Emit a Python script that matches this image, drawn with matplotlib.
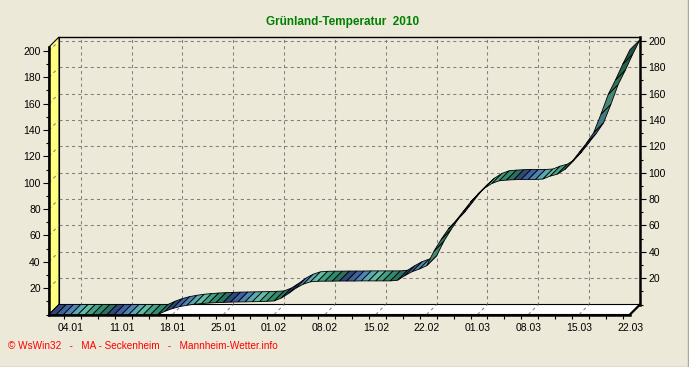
import numpy as np
import matplotlib
matplotlib.use('Agg')
import matplotlib.pyplot as plt
from matplotlib.patches import Polygon
from matplotlib.lines import Line2D
from matplotlib.ticker import FixedLocator, MultipleLocator
from matplotlib.colors import to_rgb

plt.rcParams['font.family'] = ['Liberation Sans', 'DejaVu Sans']

# ---------------- data ----------------
# day index 0 = 01.01.2010 ... 80 = 22.03.2010
values = [0, 0, 0, 0, 0, 0, 0, 0, 0, 0,
          0, 0, 0, 0, 0, 0, 2.5, 4.5, 6, 7,
          7.8, 8.3, 8.7, 9, 9.2, 9.4, 9.5, 9.6, 9.7, 9.8,
          10, 10.3, 12.5, 16, 20, 23, 24.8, 25.2, 25.3, 25.3,
          25.4, 25.4, 25.4, 25.5, 25.5, 25.5, 25.5, 25.5, 26, 29.5,
          32.5, 34.5, 37, 48, 57, 65, 71, 78, 85, 91,
          96, 99.5, 101.5, 102, 102.3, 102.5, 102.5, 102.5, 102.8, 105,
          106.5, 110, 116, 123, 130, 138, 152, 167, 178, 190,
          201]
days = np.arange(len(values))
tick_days = [3, 10, 17, 24, 31, 38, 45, 52, 59, 66, 73, 80]
tick_labels = ['04.01', '11.01', '18.01', '25.01', '01.02', '08.02',
               '15.02', '22.02', '01.03', '08.03', '15.03', '22.03']
y_ticks = [20, 40, 60, 80, 100, 120, 140, 160, 180, 200]
title = 'Grünland-Temperatur  2010'
footer = '© WsWin32   -   MA - Seckenheim   -   Mannheim-Wetter.info'

palette = ['#2E4878', '#3E62A0', '#4D84B4', '#5BA9B2', '#63BBA2',
           '#44A084', '#2F8B6D', '#2A7160']

# ---------------- figure ----------------
W, H = 689, 367
BG = '#ECE9D8'
fig = plt.figure(figsize=(W / 100, H / 100), dpi=100, facecolor=BG)

XMAX = 80
YMAX = 203
left_px, right_px = 49, 630
bot_px, top_px = 314.5, 47.0
depth = 10  # pixel offset of the back plane

ax2 = fig.add_axes([(left_px + depth) / W, (H - bot_px + depth) / H,
                    (right_px - left_px) / W, (bot_px - top_px) / H], zorder=1)
ax = fig.add_axes([left_px / W, (H - bot_px) / H,
                   (right_px - left_px) / W, (bot_px - top_px) / H], zorder=2)
for a in (ax, ax2):
    a.set_xlim(0, XMAX)
    a.set_ylim(0, YMAX)
    a.patch.set_visible(False)

bbox = ax.get_window_extent()
sx = bbox.width / XMAX
sy = bbox.height / YMAX
DX = depth / sx
DY = depth / sy

grid_kw = dict(color='#808080', linewidth=0.75, linestyle=(0, (3, 3)))

# ----- back wall (ax2) -----
ax2.xaxis.set_major_locator(FixedLocator(tick_days))
ax2.yaxis.set_major_locator(FixedLocator(y_ticks))
ax2.yaxis.set_minor_locator(MultipleLocator(10))
ax2.grid(True, which='major', **grid_kw)
ax2.tick_params(axis='x', which='both', length=0, labelbottom=False)
ax2.yaxis.tick_right()
ax2.tick_params(axis='y', which='major', direction='out', length=4, width=0.8,
                labelsize=7.5, pad=2, colors='black')
ax2.tick_params(axis='y', which='minor', direction='out', length=2, width=0.8)
for s, lw in (('top', 1.0), ('right', 1.8), ('left', 0.8), ('bottom', 0.8)):
    ax2.spines[s].set_linewidth(lw)
    ax2.spines[s].set_color('black')

# ----- front (ax) -----
ax.yaxis.set_major_locator(FixedLocator(y_ticks))
ax.yaxis.set_minor_locator(MultipleLocator(10))
ax.tick_params(axis='y', which='major', direction='out', length=4, width=0.8,
               labelsize=7.5, pad=2)
ax.tick_params(axis='y', which='minor', direction='out', length=2, width=0.8)
ax.set_xticks(tick_days)
ax.set_xticklabels(tick_labels)
minor_x = [t + DX + k * 7 / 3 for t in [-4] + tick_days for k in range(3)
           if 0 <= t + DX + k * 7 / 3 <= XMAX]
ax.xaxis.set_minor_locator(FixedLocator(minor_x))
ax.tick_params(axis='x', which='major', length=0, labelsize=7.5, pad=6)
ax.tick_params(axis='x', which='minor', direction='out', length=3, width=0.8)
ax.spines['top'].set_visible(False)
ax.spines['right'].set_visible(False)
ax.spines['left'].set_linewidth(1.8)
ax.spines['bottom'].set_linewidth(1.8)

# side wall (yellow)
wall = Polygon([(0, 0), (0, YMAX), (DX, YMAX + DY), (DX, DY)], closed=True,
               facecolor='#FFFF80', edgecolor='black', linewidth=0.8,
               clip_on=False, zorder=1)
ax.add_patch(wall)
for v in y_ticks:
    ax.plot([0, DX], [v, v + DY], clip_on=False, zorder=1.5, **grid_kw)

# floor (white)
floor = Polygon([(0, 0), (XMAX, 0), (XMAX + DX, DY), (DX, DY)], closed=True,
                facecolor='white', edgecolor='black', linewidth=0.8,
                clip_on=False, zorder=1)
ax.add_patch(floor)
ax.plot([XMAX, XMAX + DX], [0, DY], color='black', linewidth=1.6,
        clip_on=False, zorder=1.6)
for d in tick_days:
    ax.plot([d, d + DX], [0, DY], clip_on=False, zorder=1.5, **grid_kw)

# ribbon
for i in range(len(values) - 1):
    v0, v1 = values[i], values[i + 1]
    d0, d1 = days[i], days[i + 1]
    c = np.array(to_rgb(palette[i % len(palette)]))
    if (v1 - v0) * sy > 0.8 * sx:   # steep segments show the darker side
        c = c * 0.72
    poly = Polygon([(d0, v0), (d1, v1), (d1 + DX, v1 + DY), (d0 + DX, v0 + DY)],
                   closed=True, facecolor=c,
                   edgecolor='black', linewidth=0.6, clip_on=False, zorder=3)
    ax.add_patch(poly)

# texts
fig.text(343 / W, 1 - 22 / H, title, color='#008000', fontsize=8.5,
         fontweight='bold', ha='center', va='center',
         family=['Liberation Sans Narrow', 'Liberation Sans', 'DejaVu Sans'])
fig.text(8 / W, 1 - 346 / H, footer, color='#FF0000', fontsize=7.2,
         ha='left', va='center')

# window-like border
fig.add_artist(Line2D([0, 1], [0.5 / H, 0.5 / H], transform=fig.transFigure,
                      color='#ACA899', linewidth=1))
fig.add_artist(Line2D([1 - 1.5 / W, 1 - 1.5 / W], [0, 1], transform=fig.transFigure,
                      color='#ACA899', linewidth=1))

fig.savefig('out.png', dpi=100, facecolor=BG)
